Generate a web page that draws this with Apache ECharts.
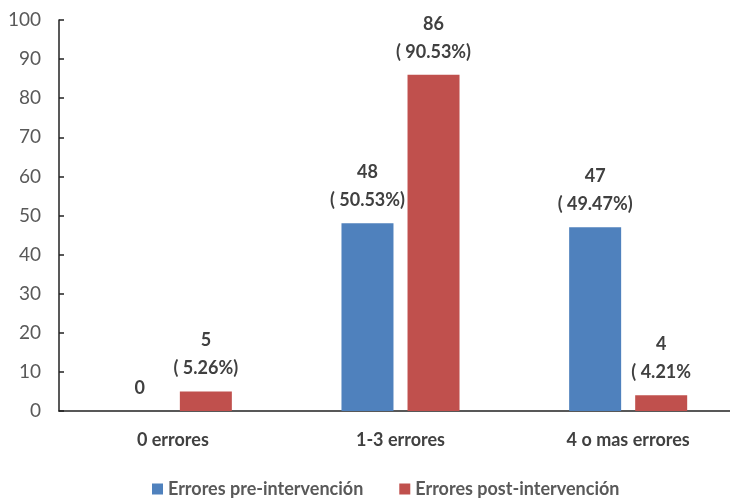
<!DOCTYPE html>
<html>
<head>
<meta charset="utf-8">
<script src="https://cdn.jsdelivr.net/npm/echarts@6/dist/echarts.min.js"></script>
<style>html,body{margin:0;padding:0;background:#fff;overflow:hidden}#c{width:742px;height:500px}</style>
</head>
<body>
<div id="c"></div>
<script>
const categories = ["0 errores", "1-3 errores", "4 o mas errores"];
const seriesNames = ["Errores pre-intervención", "Errores post-intervención"];
const preValues = [0, 48, 47];
const postValues = [5, 86, 4];
const prePctText = ["", "( 50.53%)", "( 49.47%)"];
const postPctText = ["( 5.26%)", "( 90.53%)", "( 4.21%"];
const yTicks = [0, 10, 20, 30, 40, 50, 60, 70, 80, 90, 100];

const FONT = "Lato";
function fmt(pct) {
  return function (p) {
    const t = pct[p.dataIndex];
    return t ? p.value + "\n" + t : String(p.value);
  };
}
const labelStyle = {
  show: true, position: "top", distance: 9,
  fontFamily: FONT, fontSize: 18, fontWeight: "bold", color: "#404040", lineHeight: 28
};

const chart = echarts.init(document.getElementById("c"), null, { renderer: "canvas" });
chart.setOption({
  animation: false,
  grid: { left: 59, right: 0, top: 20, bottom: 89, containLabel: false },
  legend: {
    data: seriesNames, left: 147, top: 475, itemWidth: 11, itemHeight: 11, itemGap: 36,
    icon: "rect",
    textStyle: { fontFamily: FONT, fontSize: 18, fontWeight: "bold", color: "#595959" }
  },
  xAxis: {
    type: "category", data: categories,
    axisLine: { lineStyle: { color: "#222", width: 1.5 } },
    axisTick: { show: false },
    axisLabel: { margin: 20, fontFamily: FONT, fontSize: 18, fontWeight: "bold", color: "#404040" }
  },
  yAxis: {
    type: "value", min: yTicks[0], max: yTicks[yTicks.length - 1], interval: 10,
    splitLine: { show: false },
    axisLine: { show: true, lineStyle: { color: "#222", width: 1.5 } },
    axisTick: { show: true, inside: true, length: 5, lineStyle: { color: "#222", width: 1.5 } },
    axisLabel: { margin: 18, fontFamily: FONT, fontSize: 19, color: "#595959" }
  },
  series: [
    {
      name: seriesNames[0], type: "bar", data: preValues, barWidth: 52, barGap: "27%",
      itemStyle: { color: "#4f81bd" },
      label: Object.assign({}, labelStyle, { formatter: fmt(prePctText) })
    },
    {
      name: seriesNames[1], type: "bar", data: postValues, barWidth: 52, barGap: "27%",
      itemStyle: { color: "#c0504d" },
      label: Object.assign({}, labelStyle, { formatter: fmt(postPctText) })
    }
  ]
});
</script>
</body>
</html>
